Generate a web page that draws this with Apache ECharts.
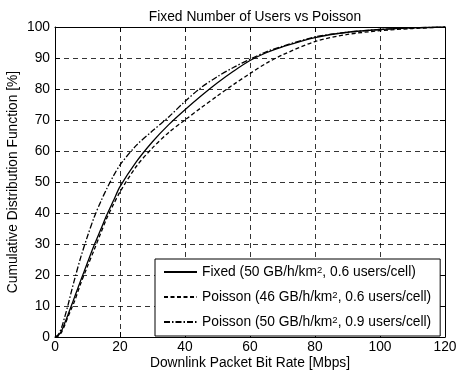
<!DOCTYPE html>
<html><head><meta charset="utf-8">
<script src="https://cdn.jsdelivr.net/npm/echarts@6/dist/echarts.min.js"></script>
<style>html,body{margin:0;padding:0;background:#fff}#c{width:461px;height:378px}</style>
</head><body><div id="c"></div>
<script>
const titleText = 'Fixed Number of Users vs Poisson';
const xName = 'Downlink Packet Bit Rate [Mbps]';
const yName = 'Cumulative Distribution Function [%]';
const xTicks = [0, 20, 40, 60, 80, 100, 120];
const yTicks = [0, 10, 20, 30, 40, 50, 60, 70, 80, 90, 100];
const rate = [0, 1, 2, 3, 4, 5, 6, 8, 10, 12, 14, 16, 18, 20, 25, 30, 35, 40, 45, 50, 55, 60, 65, 70, 80, 90, 100, 110, 120];
const fixedCdf = [0, 0.5, 2, 4.5, 7.2, 10, 12.8, 18.5, 24, 29.5, 34.5, 39.5, 44, 48.5, 56.5, 63, 68.5, 73.3, 77.8, 82, 85.8, 89.2, 91.7, 93.6, 96.6, 98.3, 99.2, 99.7, 100];
const poisson46Cdf = [0, 0.3, 1.5, 3.8, 6.5, 9, 11.5, 17.5, 22.8, 28, 33.3, 38.5, 42.8, 46.8, 55, 61, 66, 70, 74, 77.8, 81.5, 85, 88.3, 91, 95.3, 97.6, 98.8, 99.5, 100];
const poisson50Cdf = [0, 0.8, 3, 6.5, 10.3, 14.5, 18.5, 26, 32.5, 38.5, 43.5, 48, 52, 55.5, 61.8, 66.5, 71, 76, 80.5, 84, 87, 89.6, 92, 93.8, 96.8, 98.3, 99.2, 99.7, 100];
const seriesNames = ['Fixed', 'Poisson46', 'Poisson50'];
const legendPre = ['Fixed (50 GB/h/km', 'Poisson (46 GB/h/km', 'Poisson (50 GB/h/km'];
const legendSup = '2';
const legendPost = [', 0.6 users/cell)', ', 0.6 users/cell)', ', 0.9 users/cell)'];

const FONT = "'Liberation Sans', Arial, Helvetica, sans-serif";
const FS = 13.8;
const pair = (xs, ys) => xs.map((x, i) => [x, ys[i]]);
const chart = echarts.init(document.getElementById('c'), null, {renderer: 'canvas'});
const gridLine = {show: true, lineStyle: {color: '#000', width: 0.8, type: [5, 4]}};
const axLine = {show: true, onZero: false, lineStyle: {color: '#000', width: 1}};
const tick = {show: true, inside: true, length: 5, lineStyle: {color: '#000', width: 1}};
const lbl = {color: '#000', fontFamily: FONT, fontSize: FS};
function mkSeries(i, data, type) {
  return {
    name: seriesNames[i], type: 'line', data: data, symbol: 'none', showSymbol: false,
    smooth: 0.3, animation: false,
    lineStyle: {color: '#000', width: 1.3, type: type},
    itemStyle: {color: '#000'}
  };
}
chart.setOption({
  animation: false,
  backgroundColor: '#fff',
  title: {text: titleText, left: 250, textAlign: 'center', top: 5,
    textStyle: {fontFamily: FONT, fontSize: FS, fontWeight: 'normal', color: '#000'}},
  grid: {left: 55, right: 16, top: 27, bottom: 41, containLabel: false, outerBoundsMode: 'none'},
  xAxis: [
    {type: 'value', min: xTicks[0], max: xTicks[xTicks.length - 1], interval: xTicks[1] - xTicks[0],
     axisLine: axLine, axisTick: tick, splitLine: gridLine,
     axisLabel: Object.assign({margin: 3}, lbl),
     name: xName, nameLocation: 'middle', nameGap: 19, nameMoveOverlap: false,
     nameTextStyle: {fontFamily: FONT, fontSize: FS, color: '#000'}},
    {type: 'value', position: 'top', min: xTicks[0], max: xTicks[xTicks.length - 1], interval: xTicks[1] - xTicks[0],
     axisLine: axLine, axisTick: tick, splitLine: {show: false}, axisLabel: {show: false}}
  ],
  yAxis: [
    {type: 'value', min: yTicks[0], max: yTicks[yTicks.length - 1], interval: yTicks[1] - yTicks[0],
     axisLine: axLine, axisTick: tick, splitLine: gridLine,
     axisLabel: Object.assign({margin: 5}, lbl),
     name: yName, nameLocation: 'middle', nameGap: 35, nameMoveOverlap: false,
     nameTextStyle: {fontFamily: FONT, fontSize: FS, color: '#000'}},
    {type: 'value', position: 'right', min: yTicks[0], max: yTicks[yTicks.length - 1], interval: yTicks[1] - yTicks[0],
     axisLine: axLine, axisTick: tick, splitLine: {show: false}, axisLabel: {show: false}}
  ],
  legend: {
    orient: 'vertical', left: 155, top: 259,
    data: seriesNames,
    backgroundColor: '#fff', borderColor: '#000', borderWidth: 1, borderRadius: 0,
    padding: [6, 9, 5, 8], itemGap: 9, itemWidth: 33, itemHeight: 10,
    itemStyle: {opacity: 0},
    formatter: function (name) {
      const i = seriesNames.indexOf(name);
      return '{n|' + legendPre[i] + '}{s|' + legendSup + '}{n|' + legendPost[i] + '}';
    },
    textStyle: {fontFamily: FONT, fontSize: FS, color: '#000',
      rich: {
        n: {fontFamily: FONT, fontSize: FS, color: '#000', lineHeight: 14},
        s: {fontFamily: FONT, fontSize: 9.5, color: '#000', lineHeight: 9, verticalAlign: 'top', padding: [0, 0, 6, 0]}
      }}
  },
  series: [
    mkSeries(0, pair(rate, fixedCdf), 'solid'),
    mkSeries(1, pair(rate, poisson46Cdf), [4, 2.5]),
    mkSeries(2, pair(rate, poisson50Cdf), [6, 2, 1.5, 2])
  ]
});
</script></body></html>
